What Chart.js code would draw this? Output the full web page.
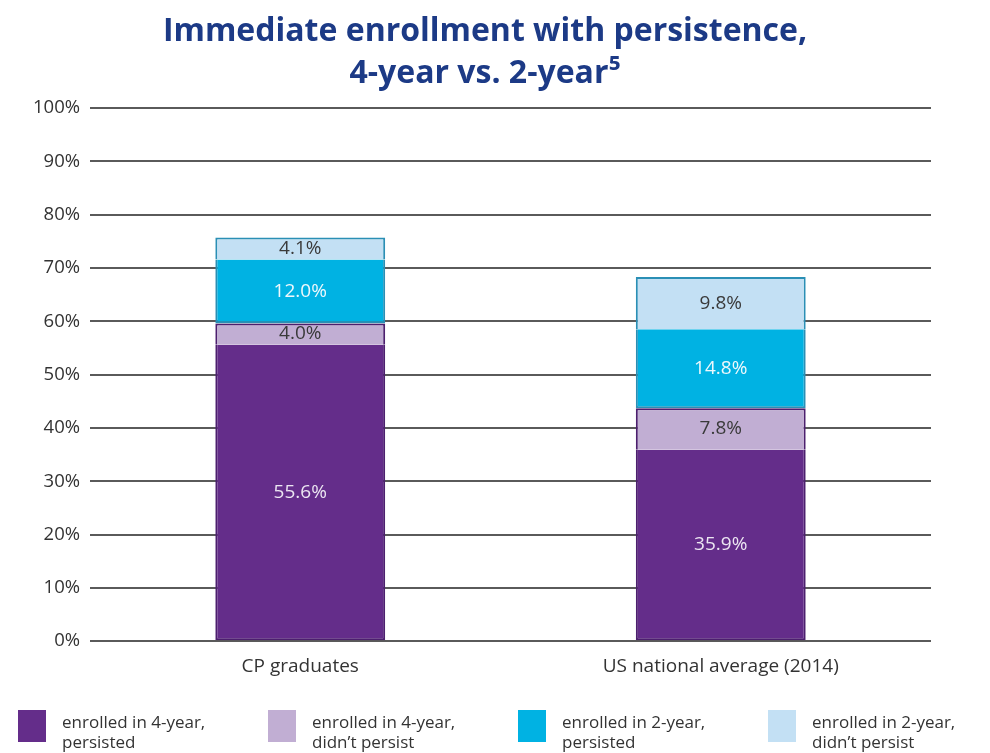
<!DOCTYPE html>
<html><head><meta charset="utf-8">
<script src="https://cdn.jsdelivr.net/npm/chart.js@4.4.1/dist/chart.umd.min.js"></script>
<style>html,body{margin:0;padding:0;background:#fff;} #wrap{width:990px;height:753px;position:relative;}</style>
</head><body><div id="wrap"><canvas id="c" width="990" height="753"></canvas></div>
<script>
const titleLines = ['Immediate enrollment with persistence,', '4-year vs. 2-year\u2075'];
const categories = ['CP graduates', 'US national average (2014)'];
const seriesLabels = ['enrolled in 4-year,|persisted', 'enrolled in 4-year,|didn\u2019t persist', 'enrolled in 2-year,|persisted', 'enrolled in 2-year,|didn\u2019t persist'];
const fourYearPersisted = [55.6, 35.9];
const fourYearNotPersisted = [4.0, 7.8];
const twoYearPersisted = [12.0, 14.8];
const twoYearNotPersisted = [4.1, 9.8];
const yTickValues = [0, 10, 20, 30, 40, 50, 60, 70, 80, 90, 100];

const FONT = 'Open Sans';
const fills = ['#642d8a', '#c1aed3', '#00b2e3', '#c3e0f4'];
const edges = ['#4c1f6e', '#4c1f6e', '#2a8fb5', '#2a8fb5'];
const labelColors = ['#ece6f2', '#3a3a3a', '#eef8fc', '#3a3a3a'];
const sides = [{left:2,right:2,bottom:2,top:0},{left:2,right:2,bottom:0,top:2},{left:2,right:2,bottom:2,top:0},{left:2,right:2,bottom:0,top:2}];
const seriesData = [fourYearPersisted, fourYearNotPersisted, twoYearPersisted, twoYearNotPersisted];

const valueLabels = {
  id: 'valueLabels',
  afterDatasetsDraw(chart) {
    const ctx = chart.ctx;
    ctx.save();
    ctx.font = '19px "' + FONT + '"';
    ctx.textAlign = 'center';
    ctx.textBaseline = 'middle';
    chart.data.datasets.forEach((ds, i) => {
      const meta = chart.getDatasetMeta(i);
      meta.data.forEach((el, j) => {
        const p = el.getProps(['x', 'y', 'base'], true);
        ctx.fillStyle = labelColors[i];
        ctx.fillText(ds.data[j].toFixed(1) + '%', p.x, (p.y + p.base) / 2);
      });
    });
    ctx.restore();
  }
};

const bottomLegend = {
  id: 'bottomLegend',
  afterDraw(chart) {
    const ctx = chart.ctx;
    ctx.save();
    ctx.font = '17px "' + FONT + '"';
    ctx.textBaseline = 'middle';
    ctx.textAlign = 'left';
    chart.data.datasets.forEach((ds, i) => {
      const x = 18 + i * 250;
      const y = 710;
      ctx.fillStyle = ds.backgroundColor;
      ctx.fillRect(x, y, 28, 32);
      ctx.fillStyle = '#333333';
      ds.label.split('|').forEach((t, k) => ctx.fillText(t, x + 44, y + 13 + k * 20));
    });
    ctx.restore();
  }
};

new Chart(document.getElementById('c'), {
  type: 'bar',
  data: {
    labels: categories,
    datasets: seriesData.map((d, i) => ({
      label: seriesLabels[i], data: d,
      backgroundColor: fills[i], borderColor: edges[i], borderWidth: sides[i], borderSkipped: false,
      categoryPercentage: 1, barPercentage: 0.404
    }))
  },
  options: {
    responsive: false, animation: false,
    layout: { padding: { left: 0, right: 20, top: 0, bottom: 61 } },
    plugins: {
      legend: { display: false },
      tooltip: { enabled: false },
      title: { display: true, text: titleLines, color: '#1c3a86',
        font: { family: FONT, size: 32, weight: 'bold', lineHeight: 42/32 },
        padding: { top: 11, bottom: 13 } }
    },
    scales: {
      x: { stacked: true, grid: { display: false, drawTicks: false }, border: { display: false },
        ticks: { color: '#333', font: { family: FONT, size: 19 }, padding: 14 } },
      y: { stacked: true, min: 0, max: 100,
        afterBuildTicks: s => { s.ticks = yTickValues.map(v => ({ value: v })); },
        afterFit: s => { s.width = 90; },
        grid: { color: '#5a5a5a', lineWidth: 2, drawTicks: false }, border: { display: false },
        ticks: { color: '#333', padding: 10, font: { family: FONT, size: 18.5 }, callback: v => v + '%' } },
      yRight: { position: 'right', min: 0, max: 100, afterFit: s => { s.width = 39; },
        grid: { display: false, drawTicks: false }, border: { display: false }, ticks: { display: false } }
    }
  },
  plugins: [valueLabels, bottomLegend]
});
</script>
</body></html>
